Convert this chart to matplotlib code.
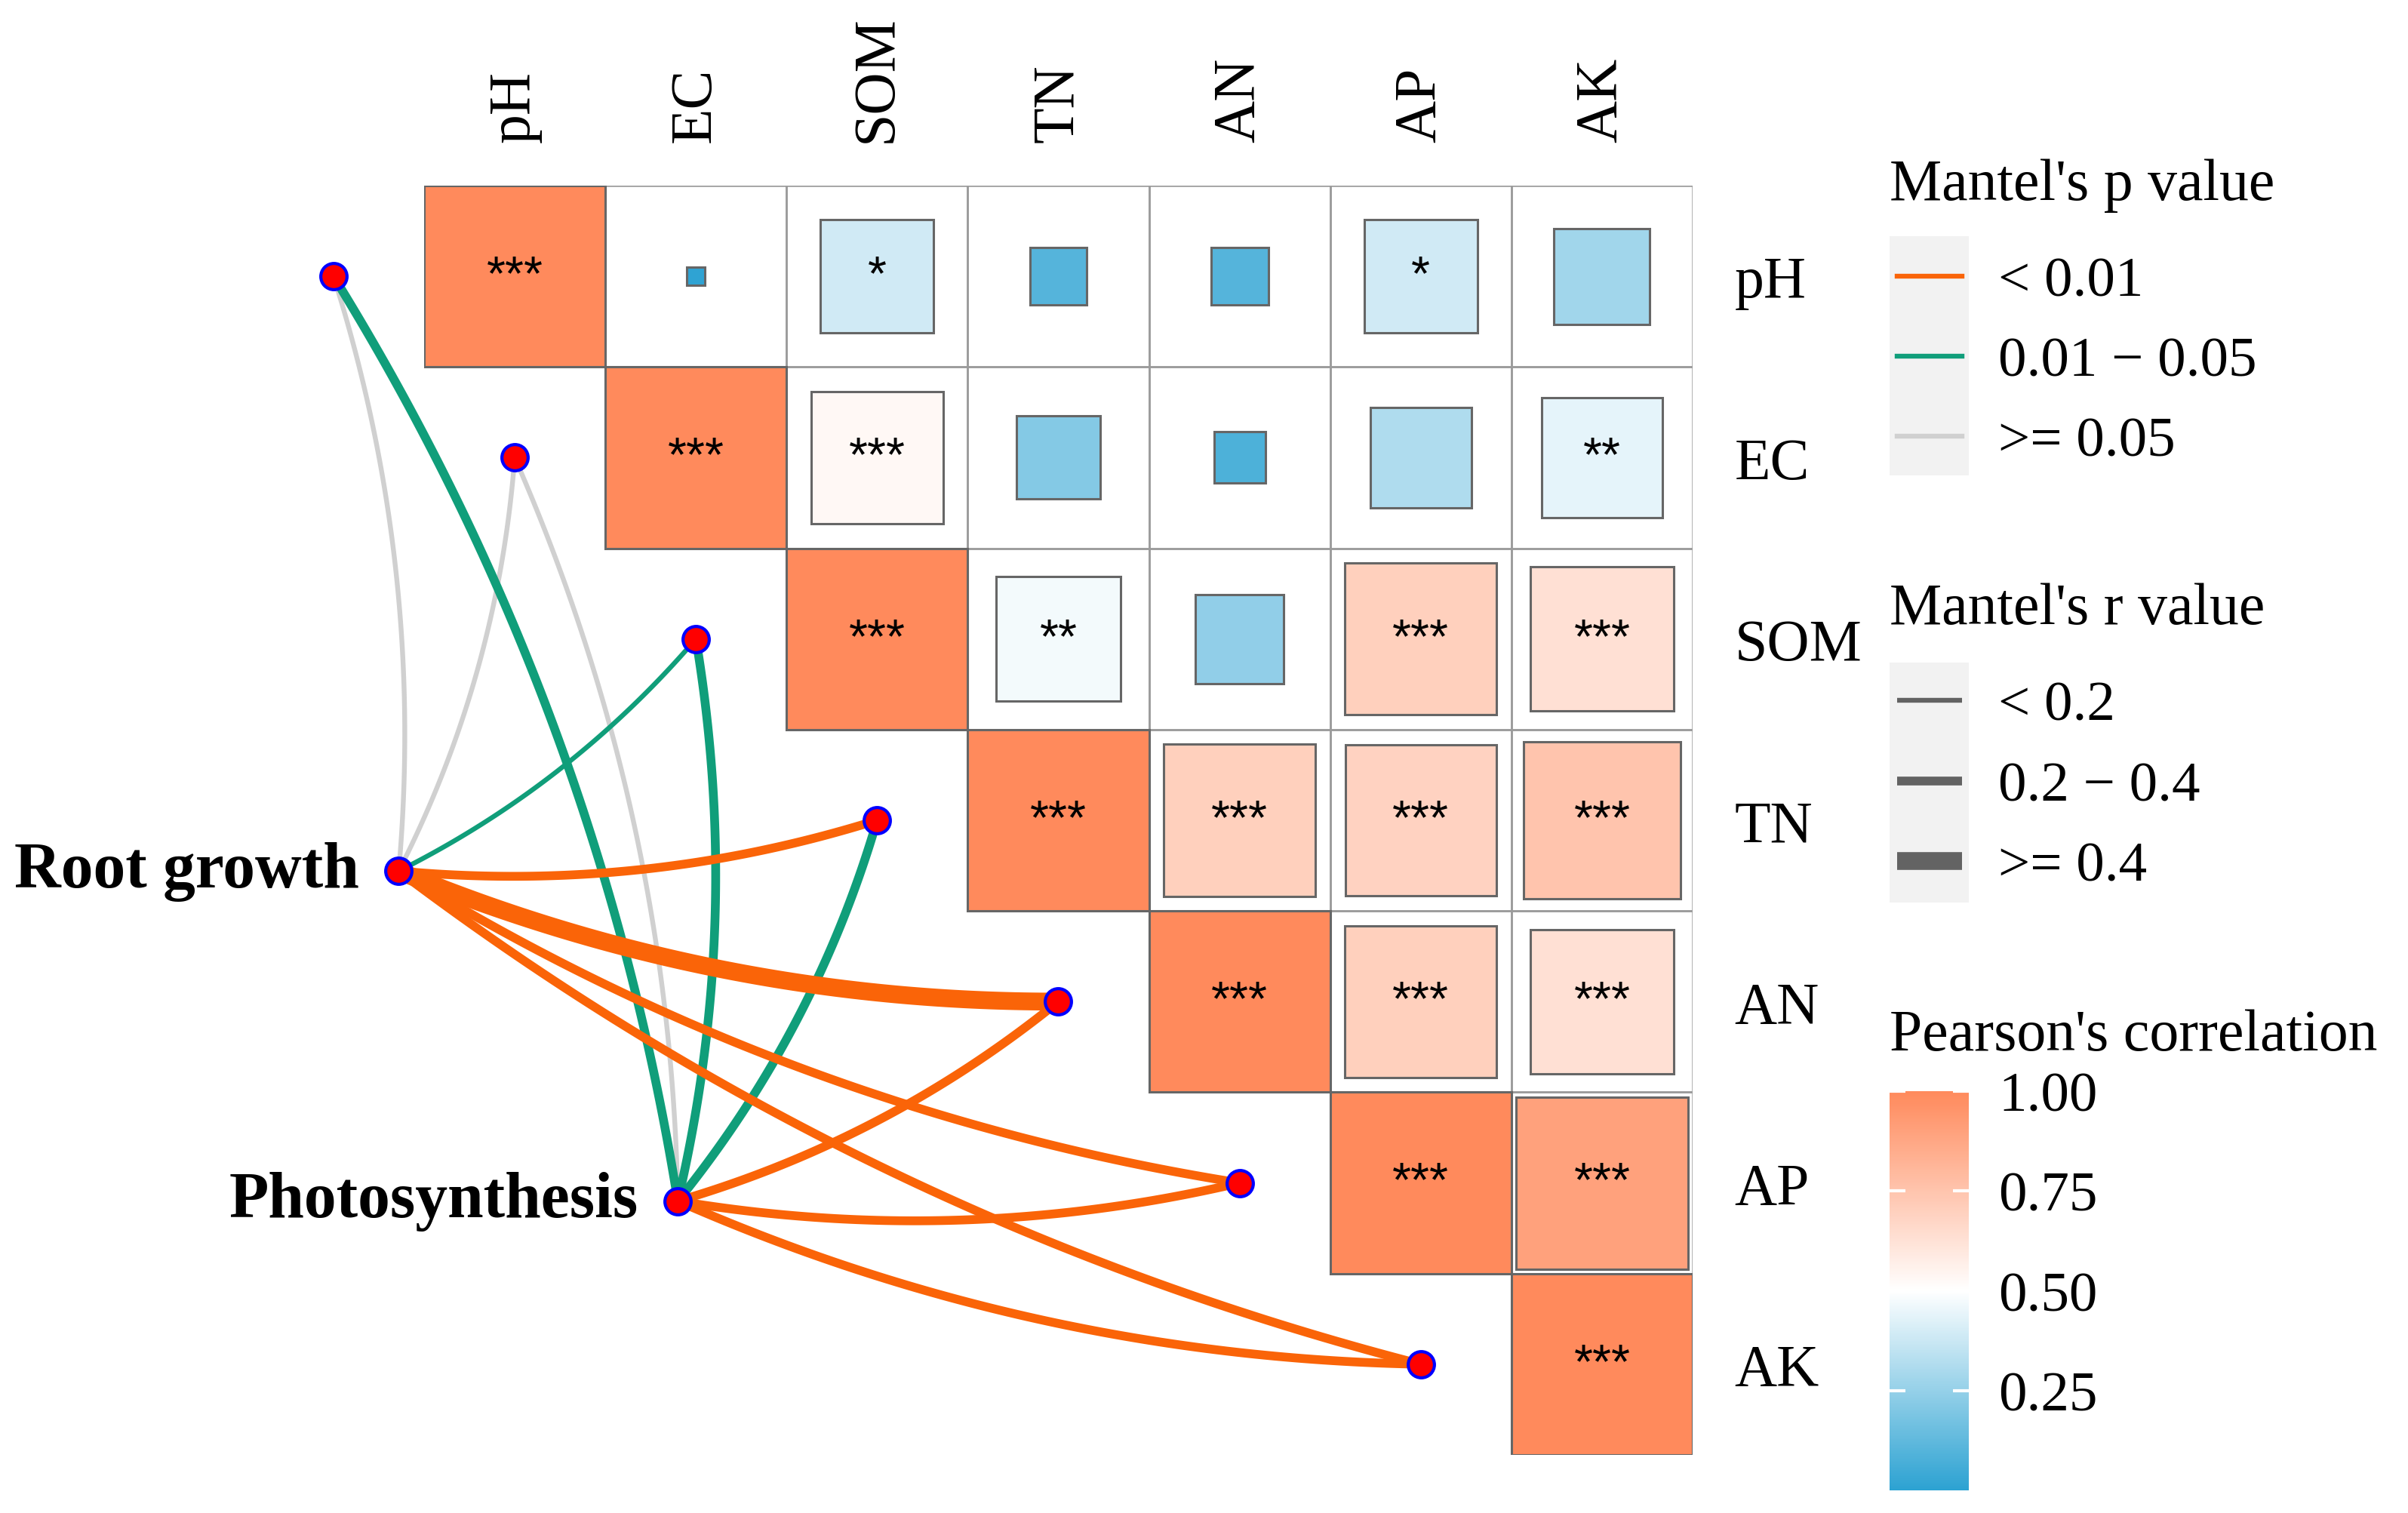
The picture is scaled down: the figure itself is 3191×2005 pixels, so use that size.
import numpy as np
import matplotlib
matplotlib.use('Agg')
import matplotlib.pyplot as plt
from matplotlib.patches import Rectangle
from matplotlib.lines import Line2D
from matplotlib.colors import LinearSegmentedColormap, Normalize
from matplotlib.cm import ScalarMappable

plt.rcParams['font.family'] = ['Liberation Serif', 'DejaVu Serif']

env = ['pH', 'EC', 'SOM', 'TN', 'AN', 'AP', 'AK']

# Pearson r, upper triangle row by row (diagonal first)
corr_rows = [
    [1.00, 0.01, 0.39, 0.10, 0.10, 0.39, 0.28],
    [1.00, 0.53, 0.21, 0.08, 0.31, 0.44],
    [1.00, 0.47, 0.24, 0.70, 0.63],
    [1.00, 0.70, 0.69, 0.75],
    [1.00, 0.70, 0.63],
    [1.00, 0.90],
    [1.00],
]
star_rows = [
    ['***', '', '*', '', '', '*', ''],
    ['***', '***', '', '', '', '**'],
    ['***', '**', '', '***', '***'],
    ['***', '***', '***', '***'],
    ['***', '***', '***'],
    ['***', '***'],
    ['***'],
]

# Mantel test: one row per response, one value per env variable
spec = ['Root growth', 'Photosynthesis']
mantel_r = [
    [0.12, 0.10, 0.15, 0.30, 0.48, 0.28, 0.26],
    [0.30, 0.12, 0.32, 0.30, 0.27, 0.29, 0.28],
]
mantel_p = [
    [0.21, 0.35, 0.032, 0.004, 0.001, 0.002, 0.003],
    [0.018, 0.42, 0.021, 0.027, 0.006, 0.003, 0.002],
]
spec_xy = [(0.36, 4.28), (1.90, 6.10)]

p_labels = ['< 0.01', '0.01 \u2212 0.05', '>= 0.05']
p_colors = ['#FA6408', '#109E7A', '#D0D0D0']
r_labels = ['< 0.2', '0.2 \u2212 0.4', '>= 0.4']
r_widths = [2.3, 4.2, 8.5]

cmap = LinearSegmentedColormap.from_list('pc', ['#2CA2D2', '#FFFFFF', '#FF8A5C'])
norm = Normalize(0, 1)


def p_class(p):
    return 0 if p < 0.01 else (1 if p < 0.05 else 2)


def r_class(r):
    return 0 if r < 0.2 else (1 if r < 0.4 else 2)


def curve(p0, p1, bend=0.1, n=80):
    p0, p1 = np.asarray(p0, float), np.asarray(p1, float)
    d = p1 - p0
    ctrl = (p0 + p1) / 2 + bend * np.array([-d[1], d[0]])
    t = np.linspace(0, 1, n)[:, None]
    return (1 - t) ** 2 * p0 + 2 * (1 - t) * t * ctrl + t ** 2 * p1


W, H = 3191, 2006
fig = plt.figure(figsize=(W / 200, H / 200), dpi=200)
ax = fig.add_axes([562 / W, 1 - 1929 / H, 1681 / W, 1682 / H])
ax.set_xlim(0.5, 7.5)
ax.set_ylim(7.5, 0.5)
for s in ax.spines.values():
    s.set_visible(False)

# heatmap cells
for i, row in enumerate(corr_rows):
    for k, r in enumerate(row):
        j = i + k
        ax.add_patch(Rectangle((j + 0.5, i + 0.5), 1, 1, fill=False,
                               edgecolor='#9b9b9b', lw=0.9, zorder=1))
for i, row in enumerate(corr_rows):
    for k, r in enumerate(row):
        j = i + k
        side = np.sqrt(abs(r))
        ax.add_patch(Rectangle((j + 1 - side / 2, i + 1 - side / 2), side, side,
                               facecolor=cmap(norm(r)), edgecolor='#666666',
                               lw=1.1, zorder=2))
        if star_rows[i][k]:
            ax.text(j + 1, i + 1, star_rows[i][k], ha='center', va='center',
                    fontsize=23, family='Liberation Sans', zorder=3)

ax.set_xticks(np.arange(1, 8))
ax.set_xticklabels(env, rotation=90)
ax.xaxis.set_ticks_position('top')
ax.set_yticks(np.arange(1, 8))
ax.set_yticklabels(env)
ax.yaxis.set_ticks_position('right')
ax.tick_params(axis='x', length=0, pad=21, labelsize=28)
ax.tick_params(axis='y', length=0, pad=20, labelsize=28)

# mantel links
links = []
for s_i, (sx, sy) in enumerate(spec_xy):
    for e_i in range(len(env)):
        links.append((mantel_p[s_i][e_i], s_i, e_i))
links.sort(key=lambda t: -t[0])
for p, s_i, e_i in links:
    pts = curve(spec_xy[s_i], (e_i, e_i + 1))
    ax.plot(pts[:, 0], pts[:, 1], color=p_colors[p_class(p)],
            lw=r_widths[r_class(mantel_r[s_i][e_i])], solid_capstyle='butt',
            clip_on=False, zorder=4)

env_x = np.arange(len(env))
env_y = np.arange(1, len(env) + 1)
ax.plot(env_x, env_y, 'o', ms=12.5, mfc='red', mec='blue', mew=1.5,
        clip_on=False, zorder=6)
ax.plot([p[0] for p in spec_xy], [p[1] for p in spec_xy], 'o', ms=12.5,
        mfc='red', mec='blue', mew=1.5, clip_on=False, zorder=6)
for name, (sx, sy) in zip(spec, spec_xy):
    ax.text(sx - 0.22, sy, name, ha='right', va='center', fontsize=30.8,
            fontweight='bold', clip_on=False)

# legends drawn in pixel space
lax = fig.add_axes([0, 0, 1, 1])
lax.set_xlim(0, W)
lax.set_ylim(H, 0)
lax.axis('off')
lax.patch.set_visible(False)

lax.text(2504, 265, "Mantel's p value", fontsize=28, va='baseline')
lax.add_patch(Rectangle((2504, 314), 105, 317, color='#F2F2F2', lw=0))
for k, (lab, col) in enumerate(zip(p_labels, p_colors)):
    y = 367 + k * 106
    lax.add_line(Line2D([2514, 2600], [y, y], color=col, lw=r_widths[0]))
    lax.text(2648, y + 8, lab, fontsize=27, va='center')

lax.text(2504, 827, "Mantel's r value", fontsize=28, va='baseline')
lax.add_patch(Rectangle((2504, 879), 105, 318, color='#F2F2F2', lw=0))
for k, (lab, lw) in enumerate(zip(r_labels, r_widths)):
    y = 929 + k * 106.5
    lax.add_line(Line2D([2514, 2600], [y, y], color='#636363', lw=lw,
                        solid_capstyle='butt'))
    lax.text(2648, y + 8, lab, fontsize=27, va='center')

lax.text(2504, 1392, "Pearson's correlation", fontsize=28, va='baseline')
cax = fig.add_axes([2504 / W, 1 - 1976 / H, 105 / W, 529 / H])
cb = fig.colorbar(ScalarMappable(norm=norm, cmap=cmap), cax=cax,
                  ticks=[0.25, 0.5, 0.75, 1.0], format='%.2f')
cb.outline.set_visible(False)
cax.tick_params(direction='in', length=7.5, width=1.5, color='white',
                left=True, right=True, pad=14, labelsize=27)

fig.savefig('out.png', dpi=200)
